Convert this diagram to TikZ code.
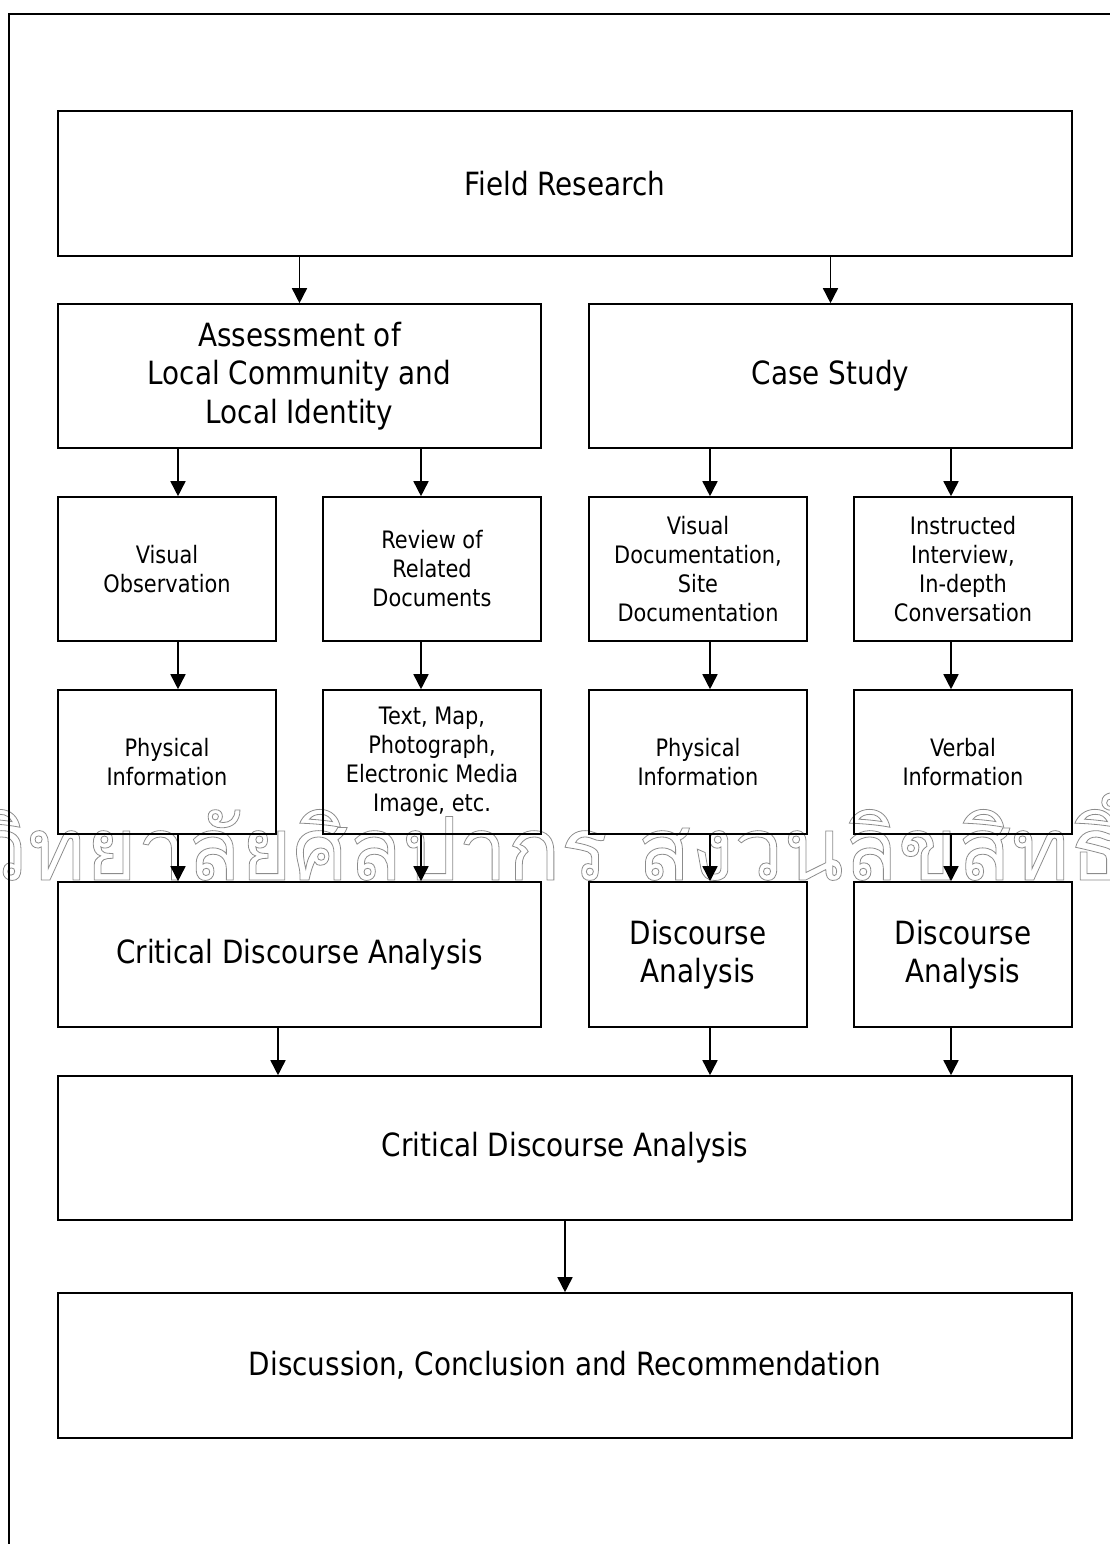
\documentclass[tikz,border=0pt]{standalone}
\usepackage{fontspec}
\setmainfont[FakeStretch=0.87]{DejaVu Sans}
\newfontfamily\thaifont[Script=Thai]{Loma}
\usetikzlibrary{arrows.meta}
\begin{document}
\begin{tikzpicture}[x=1pt,y=-1pt,
  box/.style={draw, line width=1.6pt, inner sep=0pt, align=center,
    font=\fontsize{32}{38.5}\selectfont},
  sbox/.style={box, font=\fontsize{24}{29}\selectfont,
    minimum width=218pt, minimum height=144pt},
  arr/.style={line width=1.6pt, -{Triangle[width=15pt,length=15pt]}},
  frame/.style={line width=2pt}]
\useasboundingbox (0,0) rectangle (1110,1544);
\clip (0,0) rectangle (1110,1544);
% watermark
\node[anchor=base west, inner sep=0pt, font=\thaifont\fontsize{88}{88}\selectfont]
  (wm) at (-22,880) {\special{pdf:code 1 Tr 0.8 w 0.55 G}\llap{มหา}วิทยาลัยศิลปากร สงวนลิขสิทธิ์\special{pdf:code 0 Tr 0 G}};
% frame
\draw[frame] (9,1560) -- (9,14) -- (1120,14);
% boxes
\node[box, minimum width=1014pt, minimum height=145pt] (field) at (565,183.5) {Field Research};
\node[box, minimum width=483pt, minimum height=144pt] (assess) at (299.5,376) {Assessment of\\Local Community and\\Local Identity};
\node[box, minimum width=483pt, minimum height=144pt] (case) at (830.5,376) {Case Study};
\node[sbox] (vo) at (167,569) {Visual\\Observation};
\node[sbox] (rev) at (432,569) {Review of\\Related\\Documents};
\node[sbox] (vdoc) at (698,569) {Visual\\Documentation,\\Site\\Documentation};
\node[sbox] (inst) at (963,569) {Instructed\\Interview,\\In-depth\\Conversation};
\node[sbox] (phys1) at (167,762) {Physical\\Information};
\node[sbox] (text) at (432,762) {Text, Map,\\Photograph,\\Electronic Media\\Image, etc.};
\node[sbox] (phys2) at (698,762) {Physical\\Information};
\node[sbox] (verb) at (963,762) {Verbal\\Information};
\node[box, minimum width=483pt, minimum height=145pt] (cda1) at (299.5,954.5) {Critical Discourse Analysis};
\node[box, minimum width=218pt, minimum height=145pt] (da1) at (698,954.5) {Discourse\\Analysis};
\node[box, minimum width=218pt, minimum height=145pt] (da2) at (963,954.5) {Discourse\\Analysis};
\node[box, minimum width=1014pt, minimum height=144pt] (cda2) at (565,1148) {Critical Discourse Analysis};
\node[box, minimum width=1014pt, minimum height=145pt] (disc) at (565,1365.5) {Discussion, Conclusion and Recommendation};
% arrow columns
\coordinate (c1) at (178,0);
\coordinate (c2) at (421,0);
\coordinate (c3) at (710,0);
\coordinate (c4) at (951,0);
\coordinate (c5) at (278,0);
% connectors
\draw[arr] (field.south -| assess.center) -- (assess.north);
\draw[arr] (field.south -| case.center) -- (case.north);
\draw[arr] (assess.south -| c1) -- (vo.north -| c1);
\draw[arr] (assess.south -| c2) -- (rev.north -| c2);
\draw[arr] (case.south -| c3) -- (vdoc.north -| c3);
\draw[arr] (case.south -| c4) -- (inst.north -| c4);
\draw[arr] (vo.south -| c1) -- (phys1.north -| c1);
\draw[arr] (rev.south -| c2) -- (text.north -| c2);
\draw[arr] (vdoc.south -| c3) -- (phys2.north -| c3);
\draw[arr] (inst.south -| c4) -- (verb.north -| c4);
\draw[arr] (phys1.south -| c1) -- (cda1.north -| c1);
\draw[arr] (text.south -| c2) -- (cda1.north -| c2);
\draw[arr] (phys2.south -| c3) -- (da1.north -| c3);
\draw[arr] (verb.south -| c4) -- (da2.north -| c4);
\draw[arr] (cda1.south -| c5) -- (cda2.north -| c5);
\draw[arr] (da1.south -| c3) -- (cda2.north -| c3);
\draw[arr] (da2.south -| c4) -- (cda2.north -| c4);
\draw[arr] (cda2.south) -- (disc.north);
\end{tikzpicture}
\end{document}
